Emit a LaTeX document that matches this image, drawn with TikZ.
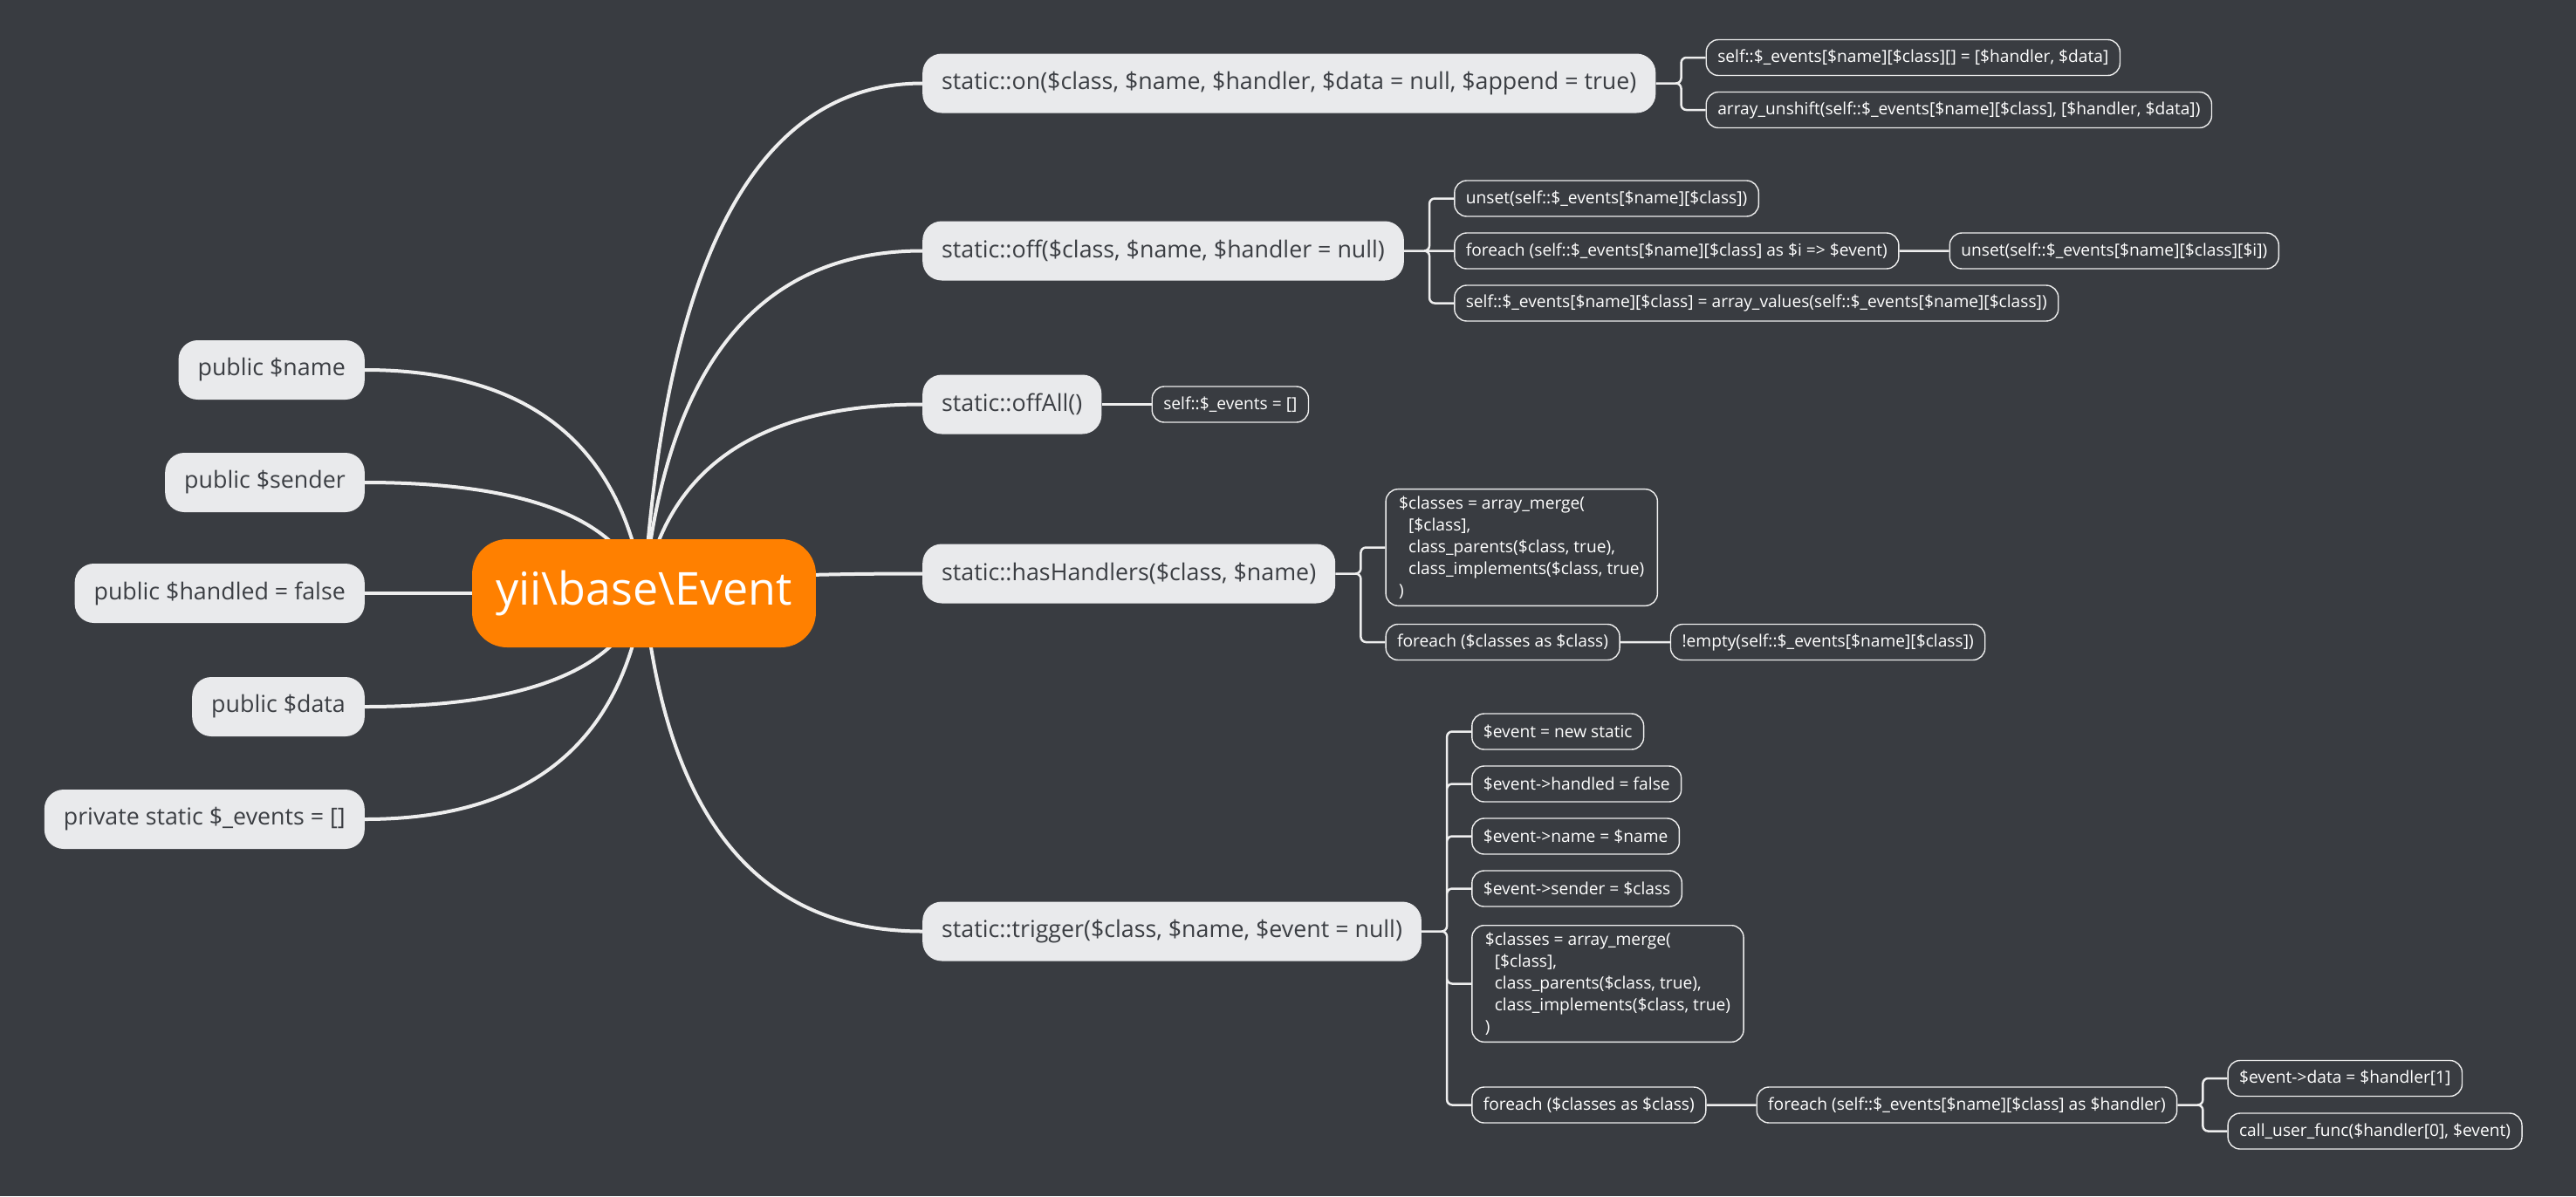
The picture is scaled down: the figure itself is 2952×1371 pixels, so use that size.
\documentclass[tikz,border=0pt]{standalone}
\usepackage{fontspec}
\setmainfont{Open Sans}
\usepackage{tikz}
\usetikzlibrary{backgrounds,calc,positioning}
\definecolor{canvas}{HTML}{393C41}
\definecolor{mainorange}{HTML}{FF8000}
\definecolor{topicfill}{HTML}{E9EAEC}
\definecolor{topictext}{HTML}{3B3E43}
\definecolor{wire}{HTML}{EEEEEE}

\begin{document}
\begin{tikzpicture}[x=1pt,y=-1pt]
        \tikzstyle{central} = [fill=mainorange,text=white,rounded corners=40pt,minimum height=124pt,inner xsep=27pt,font=\fontsize{52}{60}\selectfont]
        \tikzstyle{topic} = [fill=topicfill,text=topictext,rounded corners=22pt,minimum height=68pt,inner xsep=22pt,font=\fontsize{26.8}{32}\selectfont]
        \tikzstyle{leaf} = [draw=wire,line width=1.4pt,fill=canvas,text=white,rounded corners=14pt,minimum height=41pt,inner xsep=13pt,inner ysep=8pt,anchor=west,font=\fontsize{19.2}{25}\selectfont]
        \tikzstyle{branch} = [draw=wire,line width=4pt]
        \tikzstyle{sub} = [draw=wire,line width=2.5pt,rounded corners=6pt]
        \useasboundingbox (0,0) rectangle (2952,1371);
        %
        \node[central] (event) at (738,680) {yii\textbackslash base\textbackslash Event};
        % Left side.
        \node[topic,anchor=east] (name) at (418,424) {public \$name};
        \node[topic,anchor=east] (sender) at (418,553) {public \$sender};
        \node[topic,anchor=east] (handled) at (418,680) {public \$handled = false};
        \node[topic,anchor=east] (data) at (418,810) {public \$data};
        \node[topic,anchor=east] (events) at (418,939) {private static \$\_events = []};
        % Right side.
        \node[topic,anchor=west] (on) at (1057,95.5) {static::on(\$class, \$name, \$handler, \$data = null, \$append = true)};
        \node[leaf] (on1) at ($(on.east)+(57,-29.5)$) {self::\$\_events[\$name][\$class][] = [\$handler, \$data]};
        \node[leaf] (on2) at ($(on.east)+(57,30.5)$) {array\_unshift(self::\$\_events[\$name][\$class], [\$handler, \$data])};
        %
        \node[topic,anchor=west] (off) at (1057,287.5) {static::off(\$class, \$name, \$handler = null)};
        \node[leaf] (off1) at ($(off.east)+(57,-60)$) {unset(self::\$\_events[\$name][\$class])};
        \node[leaf] (off2) at ($(off.east)+(57,0)$) {foreach (self::\$\_events[\$name][\$class] as \$i => \$event)};
        \node[leaf,right=57pt of off2] (off3) {unset(self::\$\_events[\$name][\$class][\$i])};
        \node[leaf] (off4) at ($(off.east)+(57,60)$) {self::\$\_events[\$name][\$class] = array\_values(self::\$\_events[\$name][\$class])};
        %
        \node[topic,anchor=west] (all) at (1057,463.5) {static::offAll()};
        \node[leaf,right=57pt of all] (all1) {self::\$\_events = []};
        %
        \node[topic,anchor=west] (has) at (1057,657.5) {static::hasHandlers(\$class, \$name)};
        \node[leaf,align=left,inner xsep=15pt] (has1) at ($(has.east)+(57,-30)$) {\$classes = array\_merge(\\ \hspace*{11pt}[\$class],\\ \hspace*{11pt}class\_parents(\$class, true),\\ \hspace*{11pt}class\_implements(\$class, true)\\ )};
        \node[leaf] (has2) at ($(has.east)+(57,78.5)$) {foreach (\$classes as \$class)};
        \node[leaf,right=57pt of has2] (has3) {!empty(self::\$\_events[\$name][\$class])};
        %
        \node[topic,anchor=west] (trigger) at (1057,1067.5) {static::trigger(\$class, \$name, \$event = null)};
        \node[leaf] (tr1) at ($(trigger.east)+(57,-229)$) {\$event = new static};
        \node[leaf] (tr2) at ($(trigger.east)+(57,-169)$) {\$event->handled = false};
        \node[leaf] (tr3) at ($(trigger.east)+(57,-109)$) {\$event->name = \$name};
        \node[leaf] (tr4) at ($(trigger.east)+(57,-49)$) {\$event->sender = \$class};
        \node[leaf,align=left,inner xsep=15pt] (tr5) at ($(trigger.east)+(57,60)$) {\$classes = array\_merge(\\ \hspace*{11pt}[\$class],\\ \hspace*{11pt}class\_parents(\$class, true),\\ \hspace*{11pt}class\_implements(\$class, true)\\ )};
        \node[leaf] (tr6) at ($(trigger.east)+(57,199)$) {foreach (\$classes as \$class)};
        \node[leaf,right=57pt of tr6] (tr7) {foreach (self::\$\_events[\$name][\$class] as \$handler)};
        \node[leaf] (tr8) at ($(tr7.east)+(57,-30.5)$) {\$event->data = \$handler[1]};
        \node[leaf] (tr9) at ($(tr7.east)+(57,30)$) {call\_user\_func(\$handler[0], \$event)};
        \begin{pgfonlayer}{background}
            \fill[canvas] (0,0) rectangle (2952,1371);
            % Draw branches from the centre.
            \draw[branch] (event.center) .. controls ($(event.center)!2/3!(700,424)$) and ($(name.east)!2/3!(700,424)$) .. (name.east);
            \draw[branch] (event.center) .. controls ($(event.center)!2/3!(700,553)$) and ($(sender.east)!2/3!(700,553)$) .. (sender.east);
            \draw[branch] (event.center) -- (handled.east);
            \draw[branch] (event.center) .. controls ($(event.center)!2/3!(700,810)$) and ($(data.east)!2/3!(700,810)$) .. (data.east);
            \draw[branch] (event.center) .. controls ($(event.center)!2/3!(700,939)$) and ($(events.east)!2/3!(700,939)$) .. (events.east);
            \draw[branch] (event.center) .. controls ($(event.center)!2/3!(776,95.5)$) and ($(on.west)!2/3!(776,95.5)$) .. (on.west);
            \draw[branch] (event.center) .. controls ($(event.center)!2/3!(776,287.5)$) and ($(off.west)!2/3!(776,287.5)$) .. (off.west);
            \draw[branch] (event.center) .. controls ($(event.center)!2/3!(776,463.5)$) and ($(all.west)!2/3!(776,463.5)$) .. (all.west);
            \draw[branch] (event.center) .. controls ($(event.center)!2/3!(776,657.5)$) and ($(has.west)!2/3!(776,657.5)$) .. (has.west);
            \draw[branch] (event.center) .. controls ($(event.center)!2/3!(776,1067.5)$) and ($(trigger.west)!2/3!(776,1067.5)$) .. (trigger.west);
            % Draw sub branches.
            \draw[sub] (on.east) -| ([xshift=-28pt]on1.west) -- (on1.west) (on.east) -| ([xshift=-28pt]on2.west) -- (on2.west);
            \draw[sub] (off.east) -| ([xshift=-28pt]off1.west) -- (off1.west) (off.east) -- (off2.west) (off.east) -| ([xshift=-28pt]off4.west) -- (off4.west) (off2.east) -- (off3.west);
            \draw[sub] (all.east) -- (all1.west);
            \draw[sub] (has.east) -| ([xshift=-28pt]has1.west) -- (has1.west) (has.east) -| ([xshift=-28pt]has2.west) -- (has2.west) (has2.east) -- (has3.west);
            \draw[sub] (trigger.east) -| ([xshift=-28pt]tr1.west) -- (tr1.west) (trigger.east) -| ([xshift=-28pt]tr2.west) -- (tr2.west) (trigger.east) -| ([xshift=-28pt]tr3.west) -- (tr3.west) (trigger.east) -| ([xshift=-28pt]tr4.west) -- (tr4.west) (trigger.east) -| ([xshift=-28pt]tr5.west) -- (tr5.west) (trigger.east) -| ([xshift=-28pt]tr6.west) -- (tr6.west) (tr6.east) -- (tr7.west);
            \draw[sub] (tr7.east) -| ([xshift=-28pt]tr8.west) -- (tr8.west) (tr7.east) -| ([xshift=-28pt]tr9.west) -- (tr9.west);
        \end{pgfonlayer}
        %
\end{tikzpicture}
\end{document}
